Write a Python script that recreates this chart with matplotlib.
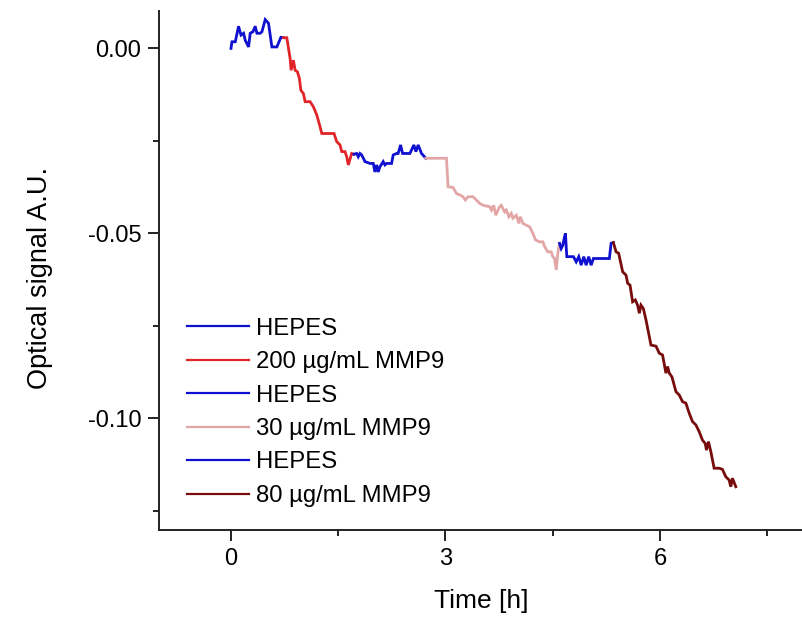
import matplotlib
matplotlib.use("Agg")
import matplotlib.pyplot as plt

plt.rcParams["font.family"] = ["Liberation Sans", "DejaVu Sans"]
plt.rcParams["axes.unicode_minus"] = False

# segment by segment (time in h, signal A.U.)
hepes1_t = [0.000, 0.014, 0.060, 0.106, 0.140, 0.176, 0.200, 0.246, 0.269, 0.307,
            0.339, 0.363, 0.409, 0.433, 0.479, 0.525, 0.572, 0.642, 0.698, 0.734]
hepes1_v = [0.0000, 0.0018, 0.0018, 0.0060, 0.0036, 0.0041, 0.0022, 0.0004, 0.0041, 0.0045,
            0.0060, 0.0041, 0.0041, 0.0045, 0.0078, 0.0068, 0.0004, 0.0004, 0.0030, 0.0029]

mmp200_t = [0.734, 0.781, 0.827, 0.841, 0.873, 0.897, 0.929, 0.957, 0.977, 1.013,
            1.037, 1.106, 1.153, 1.200, 1.246, 1.270, 1.339, 1.441, 1.479, 1.525,
            1.549, 1.595, 1.619, 1.641, 1.688, 1.720]
mmp200_v = [0.0029, 0.0029, -0.0027, -0.0059, -0.0032, -0.0059, -0.0063, -0.0081, -0.0113, -0.0122,
            -0.0144, -0.0144, -0.0158, -0.0180, -0.0212, -0.0230, -0.0230, -0.0230, -0.0252, -0.0261,
            -0.0279, -0.0279, -0.0293, -0.0315, -0.0284, -0.0286]

hepes2_t = [1.720, 1.758, 1.780, 1.804, 1.828, 1.874, 1.944, 1.990, 2.013, 2.037,
            2.059, 2.083, 2.129, 2.153, 2.177, 2.246, 2.269, 2.316, 2.338, 2.372,
            2.400, 2.502, 2.558, 2.586, 2.618, 2.665, 2.725]
hepes2_v = [-0.0286, -0.0284, -0.0293, -0.0284, -0.0288, -0.0306, -0.0311, -0.0311, -0.0334, -0.0315,
            -0.0334, -0.0320, -0.0306, -0.0315, -0.0311, -0.0311, -0.0288, -0.0284, -0.0284, -0.0261,
            -0.0284, -0.0284, -0.0261, -0.0279, -0.0261, -0.0284, -0.0297]

mmp30_t = [2.725, 3.014, 3.036, 3.106, 3.153, 3.199, 3.245, 3.279, 3.315, 3.385,
           3.432, 3.478, 3.525, 3.618, 3.642, 3.674, 3.702, 3.734, 3.757, 3.781,
           3.827, 3.851, 3.887, 3.921, 3.943, 3.991, 4.027, 4.046, 4.083, 4.130,
           4.176, 4.222, 4.260, 4.316, 4.362, 4.386, 4.432, 4.479, 4.501, 4.525,
           4.549, 4.571, 4.595]
mmp30_v = [-0.0297, -0.0297, -0.0374, -0.0376, -0.0392, -0.0396, -0.0401, -0.0410, -0.0401, -0.0401,
           -0.0410, -0.0419, -0.0424, -0.0428, -0.0437, -0.0424, -0.0451, -0.0437, -0.0428, -0.0424,
           -0.0442, -0.0437, -0.0455, -0.0446, -0.0459, -0.0451, -0.0473, -0.0455, -0.0473, -0.0478,
           -0.0482, -0.0500, -0.0518, -0.0523, -0.0523, -0.0536, -0.0550, -0.0550, -0.0563, -0.0568,
           -0.0599, -0.0554, -0.0527]

hepes3_t = [4.595, 4.618, 4.641, 4.665, 4.678, 4.688, 4.697, 4.790, 4.828, 4.864,
            4.898, 4.934, 4.967, 5.003, 5.037, 5.069, 5.292, 5.316, 5.348]
hepes3_v = [-0.0527, -0.0541, -0.0532, -0.0509, -0.0500, -0.0536, -0.0563, -0.0563, -0.0577, -0.0563,
            -0.0586, -0.0563, -0.0586, -0.0563, -0.0586, -0.0568, -0.0568, -0.0527, -0.0525]

mmp80_t = [5.348, 5.386, 5.422, 5.478, 5.525, 5.548, 5.581, 5.617, 5.655, 5.687,
           5.711, 5.734, 5.767, 5.804, 5.874, 5.944, 5.990, 6.036, 6.083, 6.106,
           6.130, 6.167, 6.223, 6.269, 6.315, 6.362, 6.408, 6.455, 6.502, 6.548,
           6.594, 6.632, 6.650, 6.678, 6.711, 6.757, 6.827, 6.873, 6.920, 6.967,
           6.990, 7.013, 7.060]
mmp80_v = [-0.0525, -0.0550, -0.0554, -0.0604, -0.0613, -0.0635, -0.0640, -0.0685, -0.0680, -0.0694,
           -0.0716, -0.0694, -0.0703, -0.0734, -0.0802, -0.0805, -0.0824, -0.0829, -0.0878, -0.0860,
           -0.0878, -0.0888, -0.0928, -0.0937, -0.0955, -0.0959, -0.0986, -0.1009, -0.1018, -0.1036,
           -0.1059, -0.1068, -0.1086, -0.1063, -0.1090, -0.1135, -0.1135, -0.1138, -0.1158, -0.1167,
           -0.1185, -0.1162, -0.1185]

segments = [
    (hepes1_t, hepes1_v, "HEPES", "#1010d0"),
    (mmp200_t, mmp200_v, "200 µg/mL MMP9", "#e02428"),
    (hepes2_t, hepes2_v, "HEPES", "#1010d0"),
    (mmp30_t, mmp30_v, "30 µg/mL MMP9", "#e2a6a6"),
    (hepes3_t, hepes3_v, "HEPES", "#1010d0"),
    (mmp80_t, mmp80_v, "80 µg/mL MMP9", "#780c0c"),
]

fig = plt.figure(figsize=(8.03, 6.18), dpi=100)
ax = fig.add_axes([0.1986, 0.1424, 0.8014, 0.8403])

for t, v, name, col in segments:
    ax.plot(t, v, color=col, lw=2.0, label=name, solid_joinstyle="miter")

ax.set_xlim(-1.0, 8.0)
ax.set_ylim(-0.1302, 0.0102)
ax.set_xticks([0, 3, 6])
ax.set_xticks([1.5, 4.5, 7.5], minor=True)
ax.set_yticks([0.0, -0.05, -0.10])
ax.set_yticks([-0.025, -0.075, -0.125], minor=True)
ax.set_yticklabels(["0.00", "-0.05", "-0.10"])

for s in ["top", "right"]:
    ax.spines[s].set_visible(False)
for s in ["left", "bottom"]:
    ax.spines[s].set_linewidth(1.4)
    ax.spines[s].set_color("#222222")

ax.tick_params(which="major", direction="out", length=8, width=1.4, labelsize=17, color="#222222")
ax.tick_params(which="minor", direction="out", length=4.5, width=1.4, color="#222222")
ax.tick_params(axis="x", which="major", pad=5)
ax.tick_params(axis="y", which="major", pad=5)

ax.set_xlabel("Time [h]", fontsize=19)
ax.set_ylabel("Optical signal A.U.", fontsize=19.5)
ax.xaxis.set_label_coords(0.5, -0.113)
ax.yaxis.set_label_coords(-0.1655, 0.486)

leg = ax.legend(loc="upper left", bbox_to_anchor=(0.0423, 0.409), frameon=False, fontsize=17.2,
                handlelength=2.6, handletextpad=0.32, labelspacing=0.48, borderpad=0, borderaxespad=0)
for ln in leg.get_lines():
    ln.set_linewidth(1.6)

plt.savefig("out.png", dpi=100)
